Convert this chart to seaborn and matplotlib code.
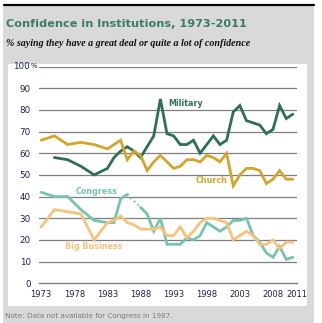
import numpy as np
import pandas as pd
import matplotlib
matplotlib.use("Agg")
import matplotlib.pyplot as plt
import matplotlib.transforms as mtransforms
from matplotlib.patches import Rectangle
from matplotlib.lines import Line2D
import seaborn as sns

sns.set_theme(style="white")
plt.rcParams['font.family'] = ['DejaVu Sans']

# ---------------- data ----------------
early_years = [1973, 1975, 1977, 1979, 1981, 1983]
late_years = list(range(1984, 2012))
years = early_years + late_years

military = [None, 58, 57, 54, 50, 53,
            58, 61, 63, 61, 58, 63, 68, 85, 69, 68, 64, 64, 66, 60,
            64, 68, 64, 66, 79, 82, 75, 74, 73, 69, 71, 82, 76, 78]
church = [66, 68, 64, 65, 64, 62,
          64, 66, 57, 61, 59, 52, 56, 59, 56, 53, 54, 57, 57, 56,
          59, 58, 56, 60, 45, 50, 53, 53, 52, 46, 48, 52, 48, 48]
congress = [42, 40, 40, 34, 29, 28,
            28, 39, 41, None, 35, 32, 24, 30, 18, 18, 18, 21, 20, 22,
            28, 26, 24, 26, 29, 29, 30, 22, 19, 14, 12, 17, 11, 12]
big_business = [26, 34, 33, 32, 20, 28,
                29, 31, 28, 27, 25, 25, 25, 26, 22, 22, 26, 21, 24, 28,
                30, 30, 29, 28, 20, 22, 24, 22, 18, 18, 20, 16, 19, 19]

series_names = ["Military", "Church", "Congress", "Big Business"]
series_values = [military, church, congress, big_business]
colors = {"Military": "#2f6e58", "Church": "#d3a52b",
          "Congress": "#77c4ae", "Big Business": "#f6c27c"}

x_ticks = [1973, 1978, 1983, 1988, 1993, 1998, 2003, 2008, 2011]
y_ticks = list(range(0, 101, 10))
title = "Confidence in Institutions, 1973-2011"
subtitle = "% saying they have a great deal or quite a lot of confidence"
note = "Note: Data not available for Congress in 1987."

# long-form table with segment ids (breaks at missing values)
rows = []
for name, vals in zip(series_names, series_values):
    seg = 0
    for yr, v in zip(years, vals):
        if v is None:
            seg += 1
            continue
        rows.append({"series": name, "year": yr, "value": v, "segment": seg})
df = pd.DataFrame(rows)

# ---------------- figure ----------------
W, H = 322, 323
fig = plt.figure(figsize=(W / 100, H / 100), dpi=100)
fig.patch.set_facecolor("white")

def fx(px):
    return px / W

def fy(py):
    return 1 - py / H

# gray frame background
fig.add_artist(Rectangle((fx(3), 0), fx(311), fy(5), transform=fig.transFigure,
                         facecolor="#d9d9d9", edgecolor="none", zorder=-10))
fig.add_artist(Line2D([fx(4), fx(314)], [fy(5), fy(5)], transform=fig.transFigure,
                      color="black", lw=1.6))
# white panel
fig.add_artist(Rectangle((fx(8), fy(306)), fx(299), (306 - 64) / H,
                         transform=fig.transFigure, facecolor="white",
                         edgecolor="none", zorder=-9))

fig.text(fx(6), fy(24), title, color="#3b7a6c", fontsize=8.1,
         fontweight="bold", va="center", ha="left")
fig.text(fx(6), fy(43.5), subtitle, color="#111111", fontsize=7.2,
         family="Liberation Serif", style="italic", fontweight="bold",
         va="center", ha="left")
fig.text(fx(5), fy(316), note, color="#7a7a7a", fontsize=5.2,
         va="center", ha="left")

ax_left, ax_w = 38.5, 258
ax = fig.add_axes([fx(ax_left), fy(283.3), fx(ax_w), (283.3 - 66.5) / H])
ax.set_facecolor("none")

for name in series_names:
    sub = df[df.series == name]
    sns.lineplot(data=sub, x="year", y="value", units="segment", estimator=None,
                 color=colors[name], lw=2.0, ax=ax, legend=False,
                 solid_joinstyle="miter")

# dotted connector across the missing Congress year
gap = congress.index(None)
ax.plot([years[gap - 1], years[gap + 1]], [congress[gap - 1], congress[gap + 1]],
        color=colors["Congress"], lw=1.8, ls=(0, (0.6, 1.3)))

ax.set_xlim(1972.6, 2011.55)
ax.set_ylim(0, 100)
ax.set_xticks(x_ticks)
ax.set_xticklabels([str(t) for t in x_ticks])
ax.set_yticks(y_ticks)
ax.set_yticklabels([str(t) for t in y_ticks[:-1]] + [""])
ax.set_xlabel("")
ax.set_ylabel("")

for t in y_ticks[1:]:
    ax.axhline(t, color="#7f7f7f", lw=0.9, zorder=0)

for s in ["top", "right", "left"]:
    ax.spines[s].set_visible(False)
ax.spines["bottom"].set_color("#7f7f7f")
ax.spines["bottom"].set_linewidth(1.0)

lab_color = "#1e2050"
ax.tick_params(axis="y", length=0, pad=5.5, labelsize=6.3, labelcolor=lab_color)
ax.tick_params(axis="x", length=3, width=0.9, color="#7f7f7f", direction="out",
               pad=2, labelsize=6.0, labelcolor=lab_color)
# nudge the last year label right as in the original
last = ax.get_xticklabels()[-1]
last.set_transform(last.get_transform() +
                   mtransforms.ScaledTranslation(4 / 100, 0, fig.dpi_scale_trans))

# "100%" top label
ax.text((30 - ax_left) / ax_w, 1.0, str(y_ticks[-1]), transform=ax.transAxes,
        fontsize=6.3, color=lab_color, ha="right", va="center")
ax.text((30.3 - ax_left) / ax_w, 1.0, "%", transform=ax.transAxes,
        fontsize=5.0, color=lab_color, ha="left", va="center")

# direct labels
lab_kw = dict(fontsize=5.8, fontweight="bold", va="center", ha="left")
ax.text(1992.2, 83, "Military", color=colors["Military"], **lab_kw)
ax.text(1996.3, 47.5, "Church", color=colors["Church"], **lab_kw)
ax.text(1978.2, 42.5, "Congress", color=colors["Congress"], **lab_kw)
ax.text(1976.6, 17, "Big Business", color=colors["Big Business"], **lab_kw)

fig.savefig("out.png", dpi=100)
